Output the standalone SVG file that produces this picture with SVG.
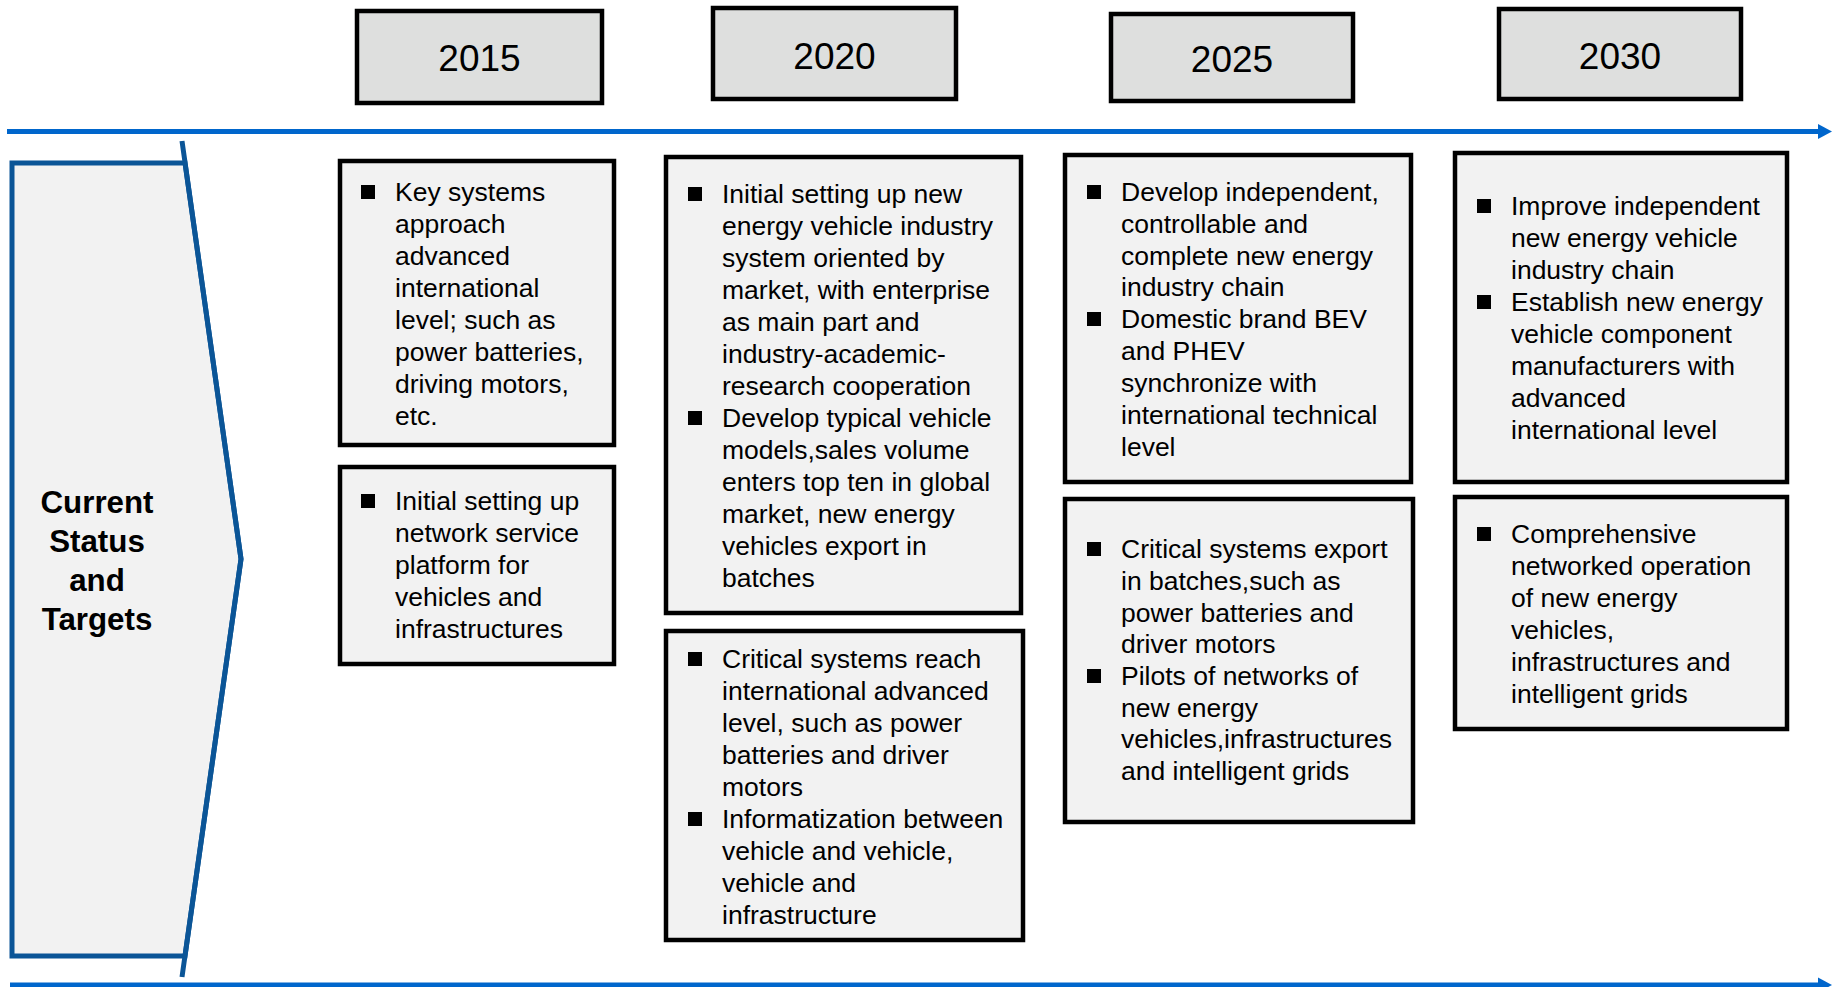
<svg xmlns="http://www.w3.org/2000/svg" width="1832" height="987" viewBox="0 0 1832 987">
  <style>
    .yr { fill: #dedfde; stroke: #000; stroke-width: 4.5; }
    .yt { font-family: "Liberation Sans", Arial, sans-serif; font-size: 37px; fill: #000; text-anchor: middle; }
    .box { fill: #f2f2f2; stroke: #000; stroke-width: 4.5; }
    .t { font-family: "Liberation Sans", Arial, sans-serif; font-size: 26.5px; fill: #000; }
    .bul { fill: #000; }
    .axis { stroke: #0066cc; stroke-width: 5; fill: none; }
    .lane { fill: #f2f2f2; stroke: #0b5597; stroke-width: 5; }
    .chev { fill: none; stroke: #0b5597; stroke-width: 5; }
    .lt { font-family: "Liberation Sans", Arial, sans-serif; font-size: 31.3px; font-weight: bold; fill: #000; text-anchor: middle; }
  </style>
  <defs>
    <marker id="ah" markerUnits="userSpaceOnUse" markerWidth="16" markerHeight="16" refX="2" refY="8" orient="auto">
      <path d="M0,0.5 L14,8 L0,15.5 Z" fill="#0066cc"/>
    </marker>
  </defs>

  <!-- timeline axes -->
  <g id="connectors">
    <line class="axis" x1="7" y1="131.5" x2="1820" y2="131.5" marker-end="url(#ah)"/>
    <line class="axis" x1="10" y1="985" x2="1820" y2="985" marker-end="url(#ah)"/>
  </g>

  <!-- side label band -->
  <g id="lane-label">
    <polygon class="lane" points="12,163 185,163 241,559 185,956 12,956" stroke-linejoin="miter"/>
    <polyline class="chev" points="182,141 241,559 182,977"/>
    <text class="lt"><tspan x="97" y="513">Current</tspan><tspan x="97" y="552">Status</tspan><tspan x="97" y="591">and</tspan><tspan x="97" y="630">Targets</tspan></text>
  </g>

  <!-- year headers -->
  <g id="y2015"><rect class="yr" x="357" y="11" width="245" height="92"/><text class="yt" x="479.5" y="71">2015</text></g>
  <g id="y2020"><rect class="yr" x="713" y="8" width="243" height="91"/><text class="yt" x="834.5" y="69">2020</text></g>
  <g id="y2025"><rect class="yr" x="1111" y="14" width="242" height="87"/><text class="yt" x="1232" y="72">2025</text></g>
  <g id="y2030"><rect class="yr" x="1499" y="9" width="242" height="90"/><text class="yt" x="1620" y="69">2030</text></g>

  <!-- 2015 -->
  <g id="b2015a">
    <rect class="box" x="340" y="161" width="274" height="284"/>
    <rect class="bul" x="361" y="185" width="14" height="14"/>
    <text class="t">
      <tspan x="395" y="201">Key systems</tspan>
      <tspan x="395" y="233">approach</tspan>
      <tspan x="395" y="265">advanced</tspan>
      <tspan x="395" y="297">international</tspan>
      <tspan x="395" y="329">level; such as</tspan>
      <tspan x="395" y="361">power batteries,</tspan>
      <tspan x="395" y="393">driving motors,</tspan>
      <tspan x="395" y="425">etc.</tspan>
    </text>
  </g>
  <g id="b2015b">
    <rect class="box" x="340" y="467" width="274" height="197"/>
    <rect class="bul" x="361" y="494" width="14" height="14"/>
    <text class="t">
      <tspan x="395" y="510">Initial setting up</tspan>
      <tspan x="395" y="542">network service</tspan>
      <tspan x="395" y="574">platform for</tspan>
      <tspan x="395" y="606">vehicles and</tspan>
      <tspan x="395" y="638">infrastructures</tspan>
    </text>
  </g>

  <!-- 2020 -->
  <g id="b2020a">
    <rect class="box" x="666" y="157" width="355" height="456"/>
    <rect class="bul" x="688" y="187" width="14" height="14"/>
    <rect class="bul" x="688" y="411" width="14" height="14"/>
    <text class="t">
      <tspan x="722" y="203">Initial setting up new</tspan>
      <tspan x="722" y="235">energy vehicle industry</tspan>
      <tspan x="722" y="267">system oriented by</tspan>
      <tspan x="722" y="299">market, with enterprise</tspan>
      <tspan x="722" y="331">as main part and</tspan>
      <tspan x="722" y="363">industry-academic-</tspan>
      <tspan x="722" y="395">research cooperation</tspan>
      <tspan x="722" y="427">Develop typical vehicle</tspan>
      <tspan x="722" y="459">models,sales volume</tspan>
      <tspan x="722" y="491">enters top ten in global</tspan>
      <tspan x="722" y="523">market, new energy</tspan>
      <tspan x="722" y="555">vehicles export in</tspan>
      <tspan x="722" y="587">batches</tspan>
    </text>
  </g>
  <g id="b2020b">
    <rect class="box" x="666" y="631" width="357" height="309"/>
    <rect class="bul" x="688" y="652" width="14" height="14"/>
    <rect class="bul" x="688" y="812" width="14" height="14"/>
    <text class="t">
      <tspan x="722" y="668">Critical systems reach</tspan>
      <tspan x="722" y="700">international advanced</tspan>
      <tspan x="722" y="732">level, such as power</tspan>
      <tspan x="722" y="764">batteries and driver</tspan>
      <tspan x="722" y="796">motors</tspan>
      <tspan x="722" y="828">Informatization between</tspan>
      <tspan x="722" y="860">vehicle and vehicle,</tspan>
      <tspan x="722" y="892">vehicle and</tspan>
      <tspan x="722" y="924">infrastructure</tspan>
    </text>
  </g>

  <!-- 2025 -->
  <g id="b2025a">
    <rect class="box" x="1065" y="155" width="346" height="327"/>
    <rect class="bul" x="1087" y="185" width="14" height="14"/>
    <rect class="bul" x="1087" y="312" width="14" height="14"/>
    <text class="t">
      <tspan x="1121" y="201">Develop independent,</tspan>
      <tspan x="1121" y="233">controllable and</tspan>
      <tspan x="1121" y="265">complete new energy</tspan>
      <tspan x="1121" y="296">industry chain</tspan>
      <tspan x="1121" y="328">Domestic brand BEV</tspan>
      <tspan x="1121" y="360">and PHEV</tspan>
      <tspan x="1121" y="392">synchronize with</tspan>
      <tspan x="1121" y="424">international technical</tspan>
      <tspan x="1121" y="456">level</tspan>
    </text>
  </g>
  <g id="b2025b">
    <rect class="box" x="1065" y="499" width="348" height="323"/>
    <rect class="bul" x="1087" y="542" width="14" height="14"/>
    <rect class="bul" x="1087" y="669" width="14" height="14"/>
    <text class="t">
      <tspan x="1121" y="558">Critical systems export</tspan>
      <tspan x="1121" y="590">in batches,such as</tspan>
      <tspan x="1121" y="622">power batteries and</tspan>
      <tspan x="1121" y="653">driver motors</tspan>
      <tspan x="1121" y="685">Pilots of networks of</tspan>
      <tspan x="1121" y="717">new energy</tspan>
      <tspan x="1121" y="748">vehicles,infrastructures</tspan>
      <tspan x="1121" y="780">and intelligent grids</tspan>
    </text>
  </g>

  <!-- 2030 -->
  <g id="b2030a">
    <rect class="box" x="1455" y="153" width="332" height="329"/>
    <rect class="bul" x="1477" y="199" width="14" height="14"/>
    <rect class="bul" x="1477" y="295" width="14" height="14"/>
    <text class="t">
      <tspan x="1511" y="215">Improve independent</tspan>
      <tspan x="1511" y="247">new energy vehicle</tspan>
      <tspan x="1511" y="279">industry chain</tspan>
      <tspan x="1511" y="311">Establish new energy</tspan>
      <tspan x="1511" y="343">vehicle component</tspan>
      <tspan x="1511" y="375">manufacturers with</tspan>
      <tspan x="1511" y="407">advanced</tspan>
      <tspan x="1511" y="439">international level</tspan>
    </text>
  </g>
  <g id="b2030b">
    <rect class="box" x="1455" y="497" width="332" height="232"/>
    <rect class="bul" x="1477" y="527" width="14" height="14"/>
    <text class="t">
      <tspan x="1511" y="543">Comprehensive</tspan>
      <tspan x="1511" y="575">networked operation</tspan>
      <tspan x="1511" y="607">of new energy</tspan>
      <tspan x="1511" y="639">vehicles,</tspan>
      <tspan x="1511" y="671">infrastructures and</tspan>
      <tspan x="1511" y="703">intelligent grids</tspan>
    </text>
  </g>
</svg>
